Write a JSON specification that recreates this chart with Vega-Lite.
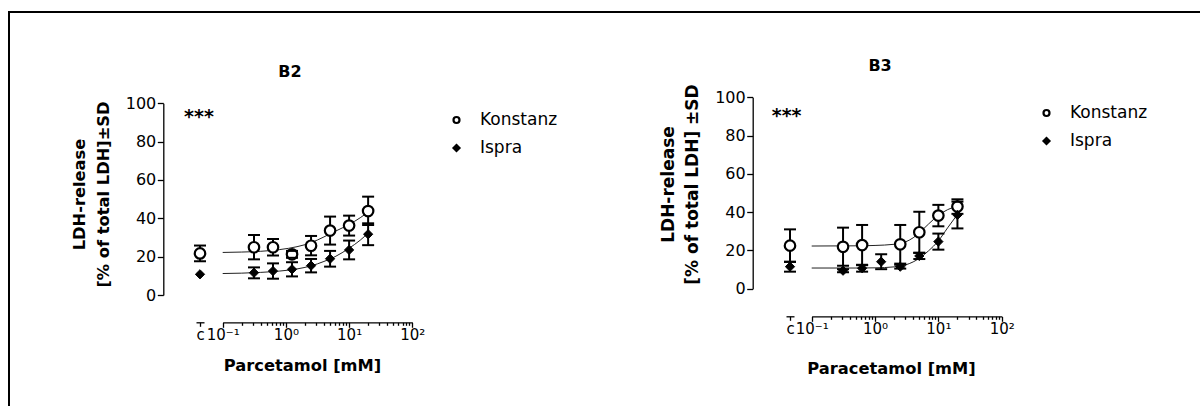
{
  "$schema": "https://vega.github.io/schema/vega-lite/v6.json",
  "width": 1200,
  "height": 400,
  "autosize": "none",
  "padding": {"left": 9, "top": 12, "right": 0, "bottom": 0},
  "background": "white",
  "config": {
    "font": "DejaVu Sans",
    "view": {"stroke": "black", "strokeWidth": 2},
    "axis": {"grid": false, "domainColor": "black", "tickColor": "black", "labelColor": "black", "titleColor": "black", "domainWidth": 1.3, "tickWidth": 1.3, "labelFont": "DejaVu Sans", "titleFont": "DejaVu Sans"},
    "legend": {"labelFont": "DejaVu Sans"}
  },
  "datasets": {
    "pts": [
      {"panel": "B2", "site": "Konstanz", "conc": 0.3125, "val": 24.9, "lo": 18.6, "hi": 31.3},
      {"panel": "B2", "site": "Konstanz", "conc": 0.625, "val": 24.9, "lo": 20.6, "hi": 29.2},
      {"panel": "B2", "site": "Konstanz", "conc": 1.25, "val": 21.2, "lo": 19.4, "hi": 23.0},
      {"panel": "B2", "site": "Konstanz", "conc": 2.5, "val": 25.7, "lo": 20.7, "hi": 30.8},
      {"panel": "B2", "site": "Konstanz", "conc": 5, "val": 33.6, "lo": 26.3, "hi": 40.9},
      {"panel": "B2", "site": "Konstanz", "conc": 10, "val": 36.2, "lo": 31.0, "hi": 41.4},
      {"panel": "B2", "site": "Konstanz", "conc": 20, "val": 43.8, "lo": 36.5, "hi": 51.3},
      {"panel": "B2", "site": "Ispra", "conc": 0.3125, "val": 11.6, "lo": 8.7, "hi": 14.4},
      {"panel": "B2", "site": "Ispra", "conc": 0.625, "val": 12.5, "lo": 8.5, "hi": 16.5},
      {"panel": "B2", "site": "Ispra", "conc": 1.25, "val": 13.4, "lo": 9.7, "hi": 17.1},
      {"panel": "B2", "site": "Ispra", "conc": 2.5, "val": 15.3, "lo": 11.8, "hi": 18.8},
      {"panel": "B2", "site": "Ispra", "conc": 5, "val": 18.9, "lo": 14.8, "hi": 23.0},
      {"panel": "B2", "site": "Ispra", "conc": 10, "val": 23.5, "lo": 18.6, "hi": 28.4},
      {"panel": "B2", "site": "Ispra", "conc": 20, "val": 31.7, "lo": 26.0, "hi": 37.4},
      {"panel": "B3", "site": "Konstanz", "conc": 0.3125, "val": 21.9, "lo": 12.0, "hi": 31.9},
      {"panel": "B3", "site": "Konstanz", "conc": 0.625, "val": 22.8, "lo": 12.3, "hi": 33.3},
      {"panel": "B3", "site": "Konstanz", "conc": 2.5, "val": 23.2, "lo": 13.1, "hi": 33.3},
      {"panel": "B3", "site": "Konstanz", "conc": 5, "val": 29.5, "lo": 18.8, "hi": 40.2},
      {"panel": "B3", "site": "Konstanz", "conc": 10, "val": 38.2, "lo": 32.6, "hi": 43.8},
      {"panel": "B3", "site": "Konstanz", "conc": 20, "val": 42.9, "lo": 39.1, "hi": 46.7},
      {"panel": "B3", "site": "Ispra", "conc": 0.3125, "val": 9.4, "lo": 8.6, "hi": 10.2},
      {"panel": "B3", "site": "Ispra", "conc": 0.625, "val": 10.7, "lo": 8.9, "hi": 12.5},
      {"panel": "B3", "site": "Ispra", "conc": 1.25, "val": 14.1, "lo": 10.2, "hi": 18.0},
      {"panel": "B3", "site": "Ispra", "conc": 2.5, "val": 11.5, "lo": 10.5, "hi": 12.5},
      {"panel": "B3", "site": "Ispra", "conc": 5, "val": 17.1, "lo": 15.5, "hi": 18.7},
      {"panel": "B3", "site": "Ispra", "conc": 10, "val": 24.6, "lo": 20.4, "hi": 28.8},
      {"panel": "B3", "site": "Ispra", "conc": 20, "val": 38.5, "lo": 31.5, "hi": 45.5}
    ],
    "ctrl": [
      {"panel": "B2", "site": "Konstanz", "grp": "c", "val": 21.7, "lo": 17.6, "hi": 25.8},
      {"panel": "B2", "site": "Ispra", "grp": "c", "val": 10.8},
      {"panel": "B3", "site": "Konstanz", "grp": "c", "val": 22.5, "lo": 14.0, "hi": 31.0},
      {"panel": "B3", "site": "Ispra", "grp": "c", "val": 11.5, "lo": 8.9, "hi": 14.1}
    ],
    "fit": [
      {"panel": "B2", "site": "Konstanz", "conc": 0.1, "val": 22.2},
      {"panel": "B2", "site": "Konstanz", "conc": 0.2, "val": 22.4},
      {"panel": "B2", "site": "Konstanz", "conc": 0.4, "val": 22.8},
      {"panel": "B2", "site": "Konstanz", "conc": 0.8, "val": 23.7},
      {"panel": "B2", "site": "Konstanz", "conc": 1.5, "val": 25.2},
      {"panel": "B2", "site": "Konstanz", "conc": 2.5, "val": 27.3},
      {"panel": "B2", "site": "Konstanz", "conc": 4, "val": 30.3},
      {"panel": "B2", "site": "Konstanz", "conc": 6, "val": 33.2},
      {"panel": "B2", "site": "Konstanz", "conc": 10, "val": 36.8},
      {"panel": "B2", "site": "Konstanz", "conc": 15, "val": 40.3},
      {"panel": "B2", "site": "Konstanz", "conc": 20, "val": 43.3},
      {"panel": "B2", "site": "Ispra", "conc": 0.1, "val": 11.2},
      {"panel": "B2", "site": "Ispra", "conc": 0.2, "val": 11.4},
      {"panel": "B2", "site": "Ispra", "conc": 0.4, "val": 11.8},
      {"panel": "B2", "site": "Ispra", "conc": 0.8, "val": 12.5},
      {"panel": "B2", "site": "Ispra", "conc": 1.5, "val": 13.6},
      {"panel": "B2", "site": "Ispra", "conc": 2.5, "val": 15.2},
      {"panel": "B2", "site": "Ispra", "conc": 4, "val": 17.5},
      {"panel": "B2", "site": "Ispra", "conc": 6, "val": 20.0},
      {"panel": "B2", "site": "Ispra", "conc": 10, "val": 24.4},
      {"panel": "B2", "site": "Ispra", "conc": 15, "val": 28.6},
      {"panel": "B2", "site": "Ispra", "conc": 20, "val": 32.3},
      {"panel": "B3", "site": "Konstanz", "conc": 0.1, "val": 22.3},
      {"panel": "B3", "site": "Konstanz", "conc": 0.5, "val": 22.4},
      {"panel": "B3", "site": "Konstanz", "conc": 1, "val": 22.6},
      {"panel": "B3", "site": "Konstanz", "conc": 2, "val": 23.2},
      {"panel": "B3", "site": "Konstanz", "conc": 3, "val": 24.4},
      {"panel": "B3", "site": "Konstanz", "conc": 4, "val": 26.6},
      {"panel": "B3", "site": "Konstanz", "conc": 5, "val": 29.2},
      {"panel": "B3", "site": "Konstanz", "conc": 7, "val": 33.8},
      {"panel": "B3", "site": "Konstanz", "conc": 10, "val": 38.3},
      {"panel": "B3", "site": "Konstanz", "conc": 14, "val": 41.3},
      {"panel": "B3", "site": "Konstanz", "conc": 20, "val": 43.2},
      {"panel": "B3", "site": "Ispra", "conc": 0.1, "val": 10.8},
      {"panel": "B3", "site": "Ispra", "conc": 0.5, "val": 10.8},
      {"panel": "B3", "site": "Ispra", "conc": 1, "val": 10.9},
      {"panel": "B3", "site": "Ispra", "conc": 2, "val": 11.4},
      {"panel": "B3", "site": "Ispra", "conc": 3, "val": 12.4},
      {"panel": "B3", "site": "Ispra", "conc": 4, "val": 14.0},
      {"panel": "B3", "site": "Ispra", "conc": 5, "val": 15.9},
      {"panel": "B3", "site": "Ispra", "conc": 7, "val": 19.8},
      {"panel": "B3", "site": "Ispra", "conc": 10, "val": 25.0},
      {"panel": "B3", "site": "Ispra", "conc": 14, "val": 31.8},
      {"panel": "B3", "site": "Ispra", "conc": 20, "val": 38.8}
    ],
    "ann": [
      {"panel": "B2", "label": "B2", "conc": 1.16, "val": 113.9},
      {"panel": "B2", "label": "***", "conc": 0.0422, "val": 89.6},
      {"panel": "B3", "label": "B3", "conc": 1.2, "val": 113.7},
      {"panel": "B3", "label": "***", "conc": 0.0402, "val": 87.3}
    ]
  },
  "layer": [
    {
      "encoding": {
        "x": {"field": "conc", "type": "quantitative",
          "scale": {"type": "log", "domain": [0.1, 100], "range": [213.7, 403.3], "nice": false},
          "axis": {"orient": "bottom", "offset": -89.7, "title": "Parcetamol [mM]", "titleFontSize": 16.3, "titleFontWeight": "bold", "titleX": 293, "titleY": 47.7, "titleBaseline": "alphabetic", "titleAlign": "center",
            "values": [0.1,0.2,0.3,0.4,0.5,0.6,0.7,0.8,0.9,1,2,3,4,5,6,7,8,9,10,20,30,40,50,60,70,80,90,100],
            "tickCount": 100,
            "labelExpr": "datum.value == 0.1 ? '10⁻¹' : datum.value == 1 ? '10⁰' : datum.value == 10 ? '10¹' : datum.value == 100 ? '10²' : ''",
            "labelFontSize": 15, "labelFlush": false, "labelOverlap": false, "labelPadding": 0.5,
            "tickSize": {"condition": {"test": "datum.value == 0.1 || datum.value == 1 || datum.value == 10 || datum.value == 100", "value": 5}, "value": 3}}},
        "y": {"field": "val", "type": "quantitative",
          "scale": {"domain": [0, 100], "range": [283, 91.3], "zero": false, "nice": false},
          "axis": {"orient": "left", "offset": -154.3, "values": [0, 20, 40, 60, 80, 100], "tickSize": 6, "labelFontSize": 16, "labelPadding": 1.5,
            "title": ["LDH-release", "[% of total LDH]±SD"], "titleFontSize": 16.3, "titleFontWeight": "bold", "titleLineHeight": 24, "titleX": -75.7, "titleY": 182, "titleAngle": -90, "titleBaseline": "bottom", "titleAlign": "center"}}
      },
      "layer": [
        {"data": {"name": "fit"}, "transform": [{"filter": "datum.panel == 'B2'"}],
         "mark": {"type": "line", "color": "#222222", "strokeWidth": 1, "interpolate": "monotone"},
         "encoding": {"detail": {"field": "site"}}},
        {"data": {"name": "pts"}, "transform": [{"filter": "datum.panel == 'B2'"}],
         "mark": {"type": "rule", "color": "black", "strokeWidth": 2},
         "encoding": {"y": {"field": "lo", "type": "quantitative", "scale": {"domain": [0, 100], "range": [283, 91.3], "zero": false, "nice": false},
           "axis": {"orient": "left", "offset": -154.3, "values": [0, 20, 40, 60, 80, 100], "tickSize": 6, "labelFontSize": 16, "labelPadding": 1.5,
            "title": ["LDH-release", "[% of total LDH]±SD"], "titleFontSize": 16.3, "titleFontWeight": "bold", "titleLineHeight": 24, "titleX": -75.7, "titleY": 182, "titleAngle": -90, "titleBaseline": "bottom", "titleAlign": "center"}},
           "y2": {"field": "hi"}}},
        {"data": {"name": "pts"}, "transform": [{"filter": "datum.panel == 'B2' && datum.site == 'Konstanz'"}],
         "mark": {"type": "point", "filled": true, "strokeWidth": 2.2, "size": 110, "opacity": 1},
         "encoding": {
           "shape": {"field": "site", "type": "nominal", "scale": {"domain": ["Konstanz", "Ispra"], "range": ["circle", "diamond"]},
             "legend": {"title": null, "orient": "none", "legendX": 439, "legendY": 99.5, "symbolSize": 36, "symbolStrokeWidth": 2.2, "symbolOpacity": 1, "labelFontSize": 17, "labelColor": "black", "labelOffset": 15, "rowPadding": 10, "padding": 0}},
           "fill": {"field": "site", "type": "nominal", "scale": {"domain": ["Konstanz", "Ispra"], "range": ["white", "black"]},
             "legend": {"title": null, "orient": "none", "legendX": 439, "legendY": 99.5, "symbolSize": 36, "symbolStrokeWidth": 2.2, "symbolOpacity": 1, "labelFontSize": 17, "labelColor": "black", "labelOffset": 15, "rowPadding": 10, "padding": 0}},
           "stroke": {"field": "site", "type": "nominal", "scale": {"domain": ["Konstanz", "Ispra"], "range": ["black", "black"]},
             "legend": {"title": null, "orient": "none", "legendX": 439, "legendY": 99.5, "symbolSize": 36, "symbolStrokeWidth": 2.2, "symbolOpacity": 1, "labelFontSize": 17, "labelColor": "black", "labelOffset": 15, "rowPadding": 10, "padding": 0}}}},
        {"data": {"name": "pts"}, "transform": [{"filter": "datum.panel == 'B2' && datum.site == 'Ispra'"}],
         "mark": {"type": "point", "filled": true, "strokeWidth": 1, "size": 85, "opacity": 1},
         "encoding": {
           "shape": {"field": "site", "type": "nominal", "scale": {"domain": ["Konstanz", "Ispra"], "range": ["circle", "diamond"]},
             "legend": {"title": null, "orient": "none", "legendX": 439, "legendY": 99.5, "symbolSize": 36, "symbolStrokeWidth": 2.2, "symbolOpacity": 1, "labelFontSize": 17, "labelColor": "black", "labelOffset": 15, "rowPadding": 10, "padding": 0}},
           "fill": {"field": "site", "type": "nominal", "scale": {"domain": ["Konstanz", "Ispra"], "range": ["white", "black"]},
             "legend": {"title": null, "orient": "none", "legendX": 439, "legendY": 99.5, "symbolSize": 36, "symbolStrokeWidth": 2.2, "symbolOpacity": 1, "labelFontSize": 17, "labelColor": "black", "labelOffset": 15, "rowPadding": 10, "padding": 0}},
           "stroke": {"field": "site", "type": "nominal", "scale": {"domain": ["Konstanz", "Ispra"], "range": ["black", "black"]},
             "legend": {"title": null, "orient": "none", "legendX": 439, "legendY": 99.5, "symbolSize": 36, "symbolStrokeWidth": 2.2, "symbolOpacity": 1, "labelFontSize": 17, "labelColor": "black", "labelOffset": 15, "rowPadding": 10, "padding": 0}}}},
        {"data": {"name": "pts"}, "transform": [{"filter": "datum.panel == 'B2'"}],
         "mark": {"type": "tick", "orient": "horizontal", "color": "black", "size": 12, "thickness": 2, "opacity": 1},
         "encoding": {"y": {"field": "lo", "type": "quantitative", "scale": {"domain": [0, 100], "range": [283, 91.3], "zero": false, "nice": false},
           "axis": {"orient": "left", "offset": -154.3, "values": [0, 20, 40, 60, 80, 100], "tickSize": 6, "labelFontSize": 16, "labelPadding": 1.5,
            "title": ["LDH-release", "[% of total LDH]±SD"], "titleFontSize": 16.3, "titleFontWeight": "bold", "titleLineHeight": 24, "titleX": -75.7, "titleY": 182, "titleAngle": -90, "titleBaseline": "bottom", "titleAlign": "center"}}}},
        {"data": {"name": "pts"}, "transform": [{"filter": "datum.panel == 'B2'"}],
         "mark": {"type": "tick", "orient": "horizontal", "color": "black", "size": 12, "thickness": 2, "opacity": 1},
         "encoding": {"y": {"field": "hi", "type": "quantitative", "scale": {"domain": [0, 100], "range": [283, 91.3], "zero": false, "nice": false},
           "axis": {"orient": "left", "offset": -154.3, "values": [0, 20, 40, 60, 80, 100], "tickSize": 6, "labelFontSize": 16, "labelPadding": 1.5,
            "title": ["LDH-release", "[% of total LDH]±SD"], "titleFontSize": 16.3, "titleFontWeight": "bold", "titleLineHeight": 24, "titleX": -75.7, "titleY": 182, "titleAngle": -90, "titleBaseline": "bottom", "titleAlign": "center"}}}},
        {"data": {"name": "ann"}, "transform": [{"filter": "datum.panel == 'B2' && datum.label == 'B2'"}],
         "mark": {"type": "text", "fontWeight": "bold", "fontSize": 16, "align": "center", "baseline": "alphabetic", "color": "black"},
         "encoding": {"text": {"field": "label"}}},
        {"data": {"name": "ann"}, "transform": [{"filter": "datum.panel == 'B2' && datum.label == '***'"}],
         "mark": {"type": "text", "fontWeight": "bold", "fontSize": 19, "align": "center", "baseline": "alphabetic", "color": "black"},
         "encoding": {"text": {"field": "label"}}}
      ]
    },
    {
      "data": {"name": "ctrl"},
      "transform": [{"filter": "datum.panel == 'B2'"}],
      "encoding": {
        "x": {"field": "grp", "type": "nominal", "scale": {"type": "point", "domain": ["c"], "range": [187, 195]},
          "axis": {"orient": "bottom", "offset": -89.7, "title": null, "labelFontSize": 15, "labelPadding": 1.5, "labelAngle": 0, "ticks": true, "tickSize": 4}},
        "y": {"field": "val", "type": "quantitative", "scale": {"domain": [0, 100], "range": [283, 91.3], "zero": false, "nice": false}, "axis": null}
      },
      "layer": [
        {"mark": {"type": "rule", "color": "black", "strokeWidth": 2},
         "encoding": {"y": {"field": "lo", "type": "quantitative", "scale": {"domain": [0, 100], "range": [283, 91.3], "zero": false, "nice": false}, "axis": null}, "y2": {"field": "hi"}}},
        {"transform": [{"filter": "datum.site == 'Konstanz'"}],
         "mark": {"type": "point", "filled": true, "stroke": "black", "strokeWidth": 2.2, "size": 110, "opacity": 1},
         "encoding": {
           "shape": {"field": "site", "type": "nominal", "scale": {"domain": ["Konstanz", "Ispra"], "range": ["circle", "diamond"]}, "legend": null},
           "fill": {"field": "site", "type": "nominal", "scale": {"domain": ["Konstanz", "Ispra"], "range": ["white", "black"]}, "legend": null}}},
        {"transform": [{"filter": "datum.site == 'Ispra'"}],
         "mark": {"type": "point", "filled": true, "stroke": "black", "strokeWidth": 1, "size": 85, "opacity": 1},
         "encoding": {
           "shape": {"field": "site", "type": "nominal", "scale": {"domain": ["Konstanz", "Ispra"], "range": ["circle", "diamond"]}, "legend": null},
           "fill": {"field": "site", "type": "nominal", "scale": {"domain": ["Konstanz", "Ispra"], "range": ["white", "black"]}, "legend": null}}},
        {"mark": {"type": "tick", "orient": "horizontal", "color": "black", "size": 12, "thickness": 2, "opacity": 1},
         "encoding": {"y": {"field": "lo", "type": "quantitative", "scale": {"domain": [0, 100], "range": [283, 91.3], "zero": false, "nice": false}, "axis": null}}},
        {"mark": {"type": "tick", "orient": "horizontal", "color": "black", "size": 12, "thickness": 2, "opacity": 1},
         "encoding": {"y": {"field": "hi", "type": "quantitative", "scale": {"domain": [0, 100], "range": [283, 91.3], "zero": false, "nice": false}, "axis": null}}}
      ]
    },
    {
      "encoding": {
        "x": {"field": "conc", "type": "quantitative",
          "scale": {"type": "log", "domain": [0.1, 100], "range": [802.7, 992.7], "nice": false},
          "axis": {"orient": "bottom", "offset": -95.7, "title": "Paracetamol [mM]", "titleFontSize": 16.3, "titleFontWeight": "bold", "titleX": 882, "titleY": 57, "titleBaseline": "alphabetic", "titleAlign": "center",
            "values": [0.1,0.2,0.3,0.4,0.5,0.6,0.7,0.8,0.9,1,2,3,4,5,6,7,8,9,10,20,30,40,50,60,70,80,90,100],
            "tickCount": 100,
            "labelExpr": "datum.value == 0.1 ? '10⁻¹' : datum.value == 1 ? '10⁰' : datum.value == 10 ? '10¹' : datum.value == 100 ? '10²' : ''",
            "labelFontSize": 15, "labelFlush": false, "labelOverlap": false, "labelPadding": 0.5,
            "tickSize": {"condition": {"test": "datum.value == 0.1 || datum.value == 1 || datum.value == 10 || datum.value == 100", "value": 5}, "value": 3}}},
        "y": {"field": "val", "type": "quantitative",
          "scale": {"domain": [0, 100], "range": [276.7, 85.3], "zero": false, "nice": false},
          "axis": {"orient": "left", "offset": -743.7, "values": [0, 20, 40, 60, 80, 100], "tickSize": 6, "labelFontSize": 16, "labelPadding": 1.5,
            "title": ["LDH-release", "[% of total LDH] ±SD"], "titleFontSize": 17, "titleFontWeight": "bold", "titleLineHeight": 24, "titleX": -75, "titleY": 172, "titleAngle": -90, "titleBaseline": "bottom", "titleAlign": "center"}}
      },
      "layer": [
        {"data": {"name": "fit"}, "transform": [{"filter": "datum.panel == 'B3'"}],
         "mark": {"type": "line", "color": "#222222", "strokeWidth": 1, "interpolate": "monotone"},
         "encoding": {"detail": {"field": "site"}}},
        {"data": {"name": "pts"}, "transform": [{"filter": "datum.panel == 'B3'"}],
         "mark": {"type": "rule", "color": "black", "strokeWidth": 2},
         "encoding": {"y": {"field": "lo", "type": "quantitative", "scale": {"domain": [0, 100], "range": [276.7, 85.3], "zero": false, "nice": false},
           "axis": {"orient": "left", "offset": -743.7, "values": [0, 20, 40, 60, 80, 100], "tickSize": 6, "labelFontSize": 16, "labelPadding": 1.5,
            "title": ["LDH-release", "[% of total LDH] ±SD"], "titleFontSize": 17, "titleFontWeight": "bold", "titleLineHeight": 24, "titleX": -75, "titleY": 172, "titleAngle": -90, "titleBaseline": "bottom", "titleAlign": "center"}},
           "y2": {"field": "hi"}}},
        {"data": {"name": "pts"}, "transform": [{"filter": "datum.panel == 'B3' && datum.site == 'Konstanz'"}],
         "mark": {"type": "point", "filled": true, "strokeWidth": 2.2, "size": 110, "opacity": 1},
         "encoding": {
           "shape": {"field": "site", "type": "nominal", "scale": {"domain": ["Konstanz", "Ispra"], "range": ["circle", "diamond"]},
             "legend": {"title": null, "orient": "none", "legendX": 1029, "legendY": 92.5, "symbolSize": 36, "symbolStrokeWidth": 2.2, "symbolOpacity": 1, "labelFontSize": 17, "labelColor": "black", "labelOffset": 15, "rowPadding": 10, "padding": 0}},
           "fill": {"field": "site", "type": "nominal", "scale": {"domain": ["Konstanz", "Ispra"], "range": ["white", "black"]},
             "legend": {"title": null, "orient": "none", "legendX": 1029, "legendY": 92.5, "symbolSize": 36, "symbolStrokeWidth": 2.2, "symbolOpacity": 1, "labelFontSize": 17, "labelColor": "black", "labelOffset": 15, "rowPadding": 10, "padding": 0}},
           "stroke": {"field": "site", "type": "nominal", "scale": {"domain": ["Konstanz", "Ispra"], "range": ["black", "black"]},
             "legend": {"title": null, "orient": "none", "legendX": 1029, "legendY": 92.5, "symbolSize": 36, "symbolStrokeWidth": 2.2, "symbolOpacity": 1, "labelFontSize": 17, "labelColor": "black", "labelOffset": 15, "rowPadding": 10, "padding": 0}}}},
        {"data": {"name": "pts"}, "transform": [{"filter": "datum.panel == 'B3' && datum.site == 'Ispra'"}],
         "mark": {"type": "point", "filled": true, "strokeWidth": 1, "size": 85, "opacity": 1},
         "encoding": {
           "shape": {"field": "site", "type": "nominal", "scale": {"domain": ["Konstanz", "Ispra"], "range": ["circle", "diamond"]},
             "legend": {"title": null, "orient": "none", "legendX": 1029, "legendY": 92.5, "symbolSize": 36, "symbolStrokeWidth": 2.2, "symbolOpacity": 1, "labelFontSize": 17, "labelColor": "black", "labelOffset": 15, "rowPadding": 10, "padding": 0}},
           "fill": {"field": "site", "type": "nominal", "scale": {"domain": ["Konstanz", "Ispra"], "range": ["white", "black"]},
             "legend": {"title": null, "orient": "none", "legendX": 1029, "legendY": 92.5, "symbolSize": 36, "symbolStrokeWidth": 2.2, "symbolOpacity": 1, "labelFontSize": 17, "labelColor": "black", "labelOffset": 15, "rowPadding": 10, "padding": 0}},
           "stroke": {"field": "site", "type": "nominal", "scale": {"domain": ["Konstanz", "Ispra"], "range": ["black", "black"]},
             "legend": {"title": null, "orient": "none", "legendX": 1029, "legendY": 92.5, "symbolSize": 36, "symbolStrokeWidth": 2.2, "symbolOpacity": 1, "labelFontSize": 17, "labelColor": "black", "labelOffset": 15, "rowPadding": 10, "padding": 0}}}},
        {"data": {"name": "pts"}, "transform": [{"filter": "datum.panel == 'B3'"}],
         "mark": {"type": "tick", "orient": "horizontal", "color": "black", "size": 12, "thickness": 2, "opacity": 1},
         "encoding": {"y": {"field": "lo", "type": "quantitative", "scale": {"domain": [0, 100], "range": [276.7, 85.3], "zero": false, "nice": false},
           "axis": {"orient": "left", "offset": -743.7, "values": [0, 20, 40, 60, 80, 100], "tickSize": 6, "labelFontSize": 16, "labelPadding": 1.5,
            "title": ["LDH-release", "[% of total LDH] ±SD"], "titleFontSize": 17, "titleFontWeight": "bold", "titleLineHeight": 24, "titleX": -75, "titleY": 172, "titleAngle": -90, "titleBaseline": "bottom", "titleAlign": "center"}}}},
        {"data": {"name": "pts"}, "transform": [{"filter": "datum.panel == 'B3'"}],
         "mark": {"type": "tick", "orient": "horizontal", "color": "black", "size": 12, "thickness": 2, "opacity": 1},
         "encoding": {"y": {"field": "hi", "type": "quantitative", "scale": {"domain": [0, 100], "range": [276.7, 85.3], "zero": false, "nice": false},
           "axis": {"orient": "left", "offset": -743.7, "values": [0, 20, 40, 60, 80, 100], "tickSize": 6, "labelFontSize": 16, "labelPadding": 1.5,
            "title": ["LDH-release", "[% of total LDH] ±SD"], "titleFontSize": 17, "titleFontWeight": "bold", "titleLineHeight": 24, "titleX": -75, "titleY": 172, "titleAngle": -90, "titleBaseline": "bottom", "titleAlign": "center"}}}},
        {"data": {"name": "ann"}, "transform": [{"filter": "datum.panel == 'B3' && datum.label == 'B3'"}],
         "mark": {"type": "text", "fontWeight": "bold", "fontSize": 16, "align": "center", "baseline": "alphabetic", "color": "black"},
         "encoding": {"text": {"field": "label"}}},
        {"data": {"name": "ann"}, "transform": [{"filter": "datum.panel == 'B3' && datum.label == '***'"}],
         "mark": {"type": "text", "fontWeight": "bold", "fontSize": 19, "align": "center", "baseline": "alphabetic", "color": "black"},
         "encoding": {"text": {"field": "label"}}}
      ]
    },
    {
      "data": {"name": "ctrl"},
      "transform": [{"filter": "datum.panel == 'B3'"}],
      "encoding": {
        "x": {"field": "grp", "type": "nominal", "scale": {"type": "point", "domain": ["c"], "range": [777, 785]},
          "axis": {"orient": "bottom", "offset": -95.7, "title": null, "labelFontSize": 15, "labelPadding": 1.5, "labelAngle": 0, "ticks": true, "tickSize": 4}},
        "y": {"field": "val", "type": "quantitative", "scale": {"domain": [0, 100], "range": [276.7, 85.3], "zero": false, "nice": false}, "axis": null}
      },
      "layer": [
        {"mark": {"type": "rule", "color": "black", "strokeWidth": 2},
         "encoding": {"y": {"field": "lo", "type": "quantitative", "scale": {"domain": [0, 100], "range": [276.7, 85.3], "zero": false, "nice": false}, "axis": null}, "y2": {"field": "hi"}}},
        {"transform": [{"filter": "datum.site == 'Konstanz'"}],
         "mark": {"type": "point", "filled": true, "stroke": "black", "strokeWidth": 2.2, "size": 110, "opacity": 1},
         "encoding": {
           "shape": {"field": "site", "type": "nominal", "scale": {"domain": ["Konstanz", "Ispra"], "range": ["circle", "diamond"]}, "legend": null},
           "fill": {"field": "site", "type": "nominal", "scale": {"domain": ["Konstanz", "Ispra"], "range": ["white", "black"]}, "legend": null}}},
        {"transform": [{"filter": "datum.site == 'Ispra'"}],
         "mark": {"type": "point", "filled": true, "stroke": "black", "strokeWidth": 1, "size": 85, "opacity": 1},
         "encoding": {
           "shape": {"field": "site", "type": "nominal", "scale": {"domain": ["Konstanz", "Ispra"], "range": ["circle", "diamond"]}, "legend": null},
           "fill": {"field": "site", "type": "nominal", "scale": {"domain": ["Konstanz", "Ispra"], "range": ["white", "black"]}, "legend": null}}},
        {"mark": {"type": "tick", "orient": "horizontal", "color": "black", "size": 12, "thickness": 2, "opacity": 1},
         "encoding": {"y": {"field": "lo", "type": "quantitative", "scale": {"domain": [0, 100], "range": [276.7, 85.3], "zero": false, "nice": false}, "axis": null}}},
        {"mark": {"type": "tick", "orient": "horizontal", "color": "black", "size": 12, "thickness": 2, "opacity": 1},
         "encoding": {"y": {"field": "hi", "type": "quantitative", "scale": {"domain": [0, 100], "range": [276.7, 85.3], "zero": false, "nice": false}, "axis": null}}}
      ]
    }
  ],
  "resolve": {
    "scale": {"x": "independent", "y": "independent", "shape": "independent", "fill": "independent", "stroke": "independent"},
    "axis": {"x": "independent", "y": "independent"},
    "legend": {"shape": "independent", "fill": "independent", "stroke": "independent"}
  }
}
